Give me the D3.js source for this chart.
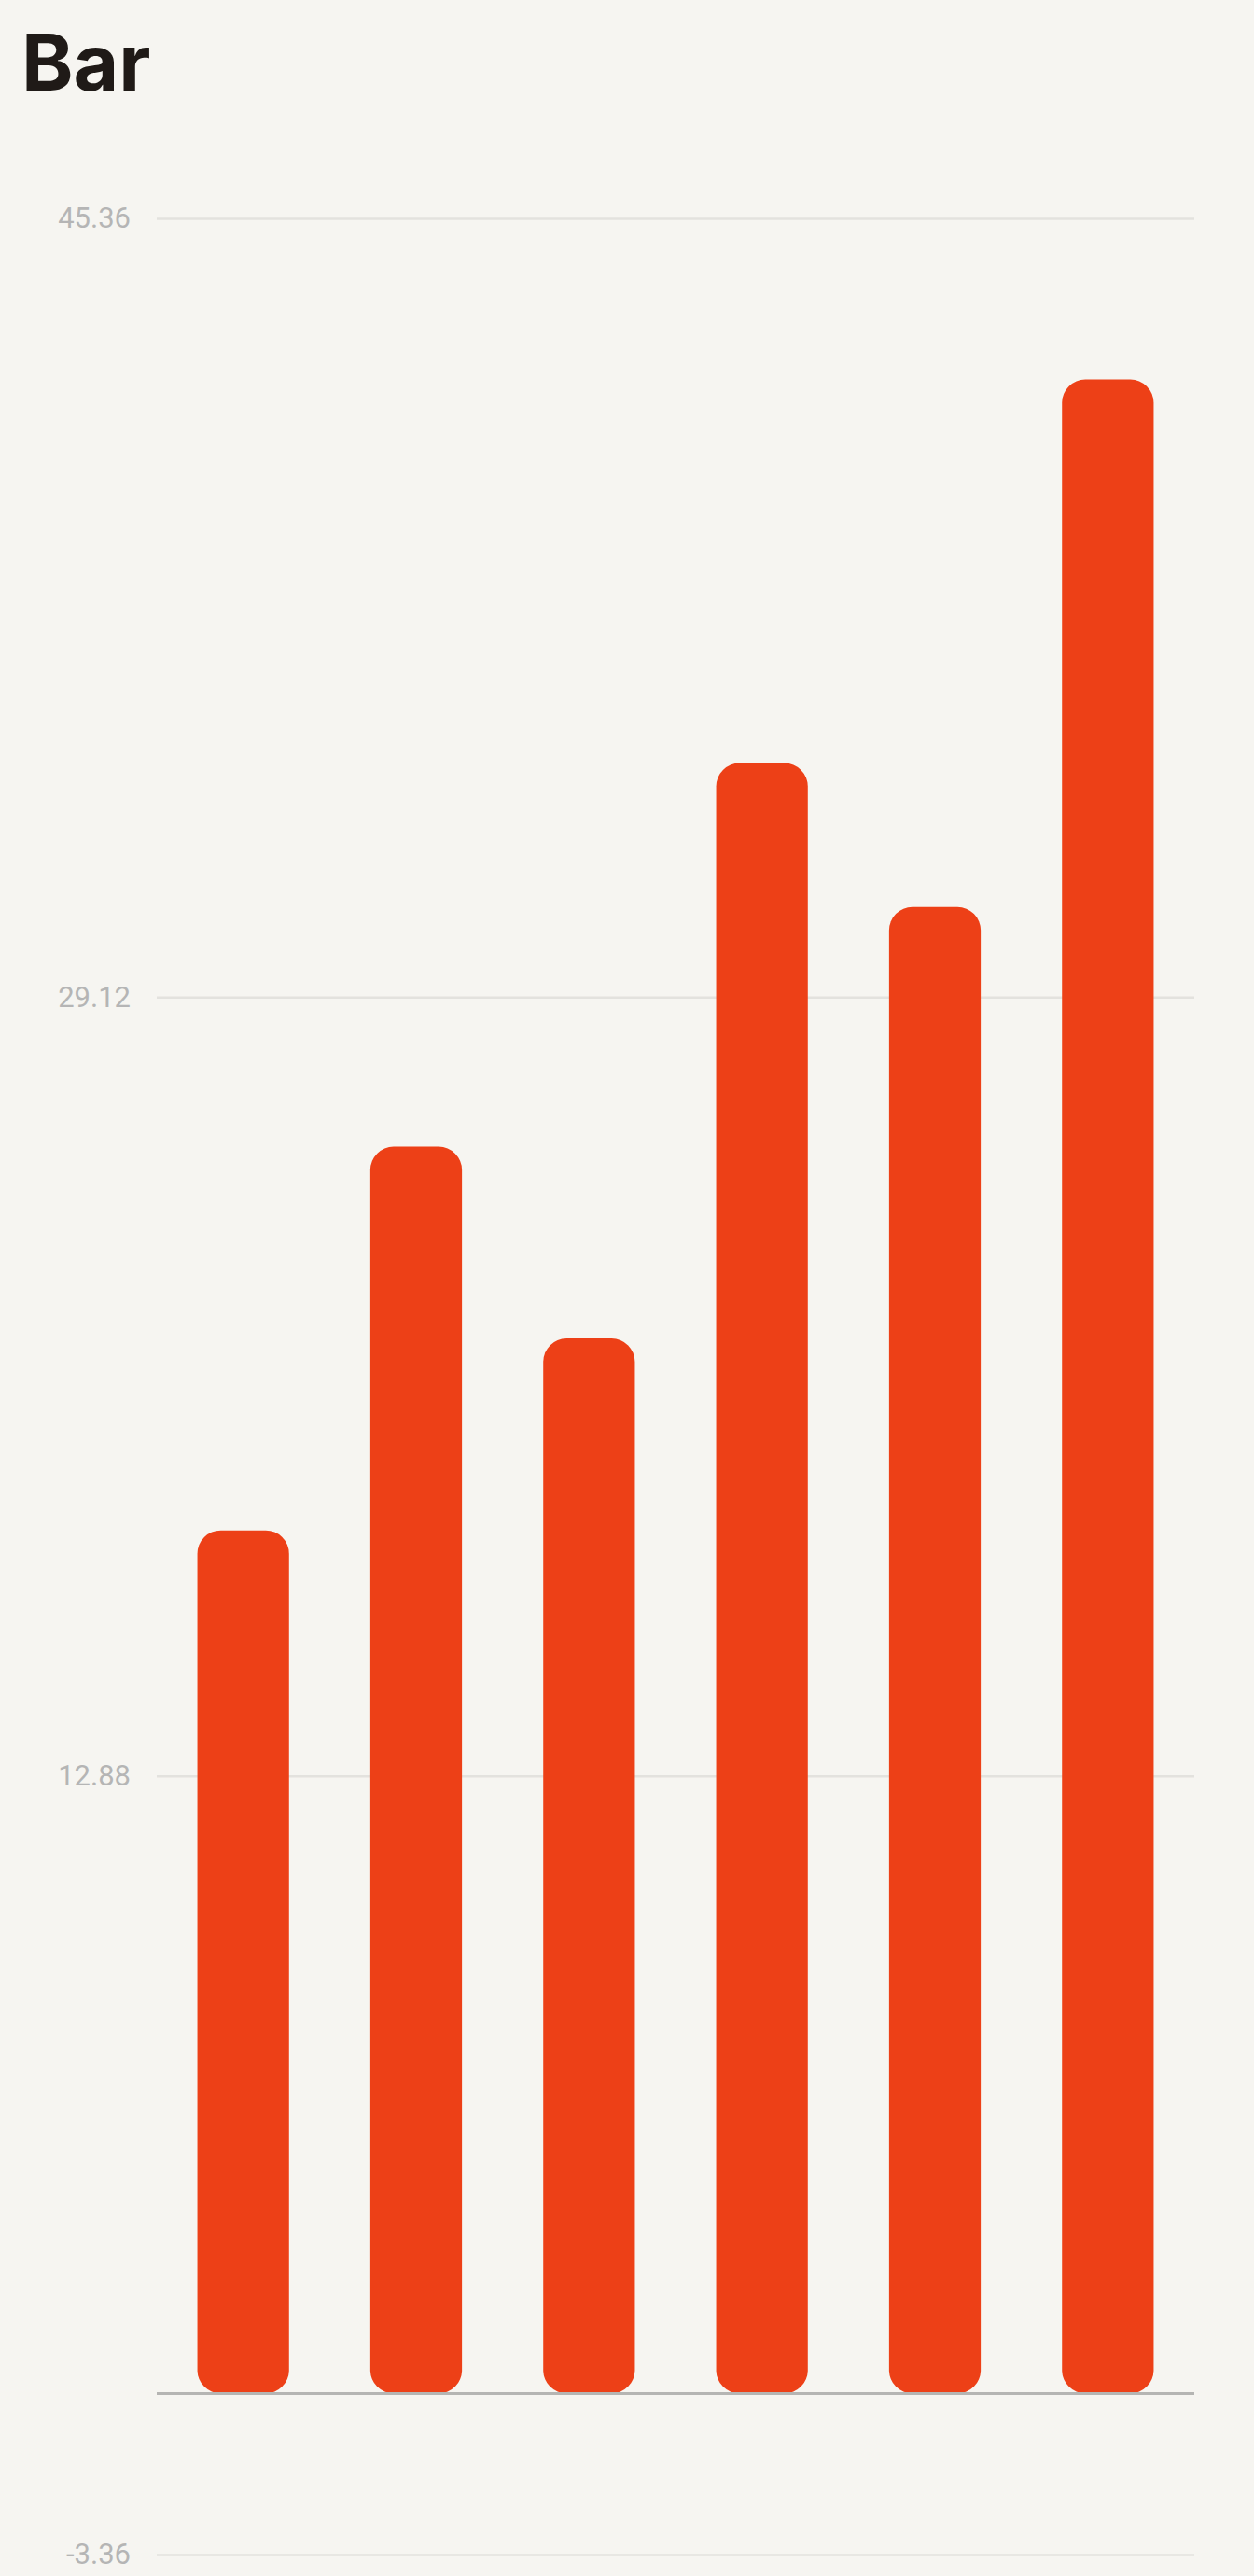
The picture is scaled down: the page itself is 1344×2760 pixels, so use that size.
<!DOCTYPE html>
<html>
<head>
<meta charset="utf-8">
<script src="https://cdn.jsdelivr.net/npm/d3@7"></script>
<style>
  html, body { margin: 0; padding: 0; background: #f6f5f1; }
  svg { display: block; }
</style>
</head>
<body>
<div id="chart"></div>
<script>
const categories = ['A', 'B', 'C', 'D', 'E', 'F'];
const values = [18, 26, 22, 34, 31, 42];
const yTicks = [-3.36, 12.88, 29.12, 45.36];

const width = 1344;
const height = 2760;
const marginLeft = 168;
const marginRight = 1280;
const plotTop = 234;
const plotBottom = 2737;

let svg = d3.select('#chart').append('svg')
  .attr('width', width)
  .attr('height', height);

svg.append('rect')
  .attr('width', width)
  .attr('height', height)
  .attr('fill', '#f6f5f1');

// Title
svg.append('text')
  .text('Bar')
  .attr('x', 23)
  .attr('y', 97)
  .attr('font-family', 'Inter')
  .attr('font-weight', 700)
  .attr('font-size', 84)
  .attr('fill', '#1f1a17');

let x = d3.scaleBand()
  .domain(categories)
  .range([marginLeft, marginRight])
  .paddingInner(0.47)
  .paddingOuter(0.235);

let y = d3.scaleLinear()
  .domain([yTicks[0], yTicks[yTicks.length - 1]])
  .range([plotBottom, plotTop]);

// Grid lines and labels
let yAxis = d3.axisLeft(y)
  .tickValues(yTicks)
  .tickSize(-(marginRight - marginLeft))
  .tickPadding(28)
  .tickFormat(d => d.toFixed(2));

let axisG = svg.append('g')
  .attr('transform', 'translate(' + marginLeft + ',0)')
  .call(yAxis);

axisG.select('.domain').remove();
axisG.selectAll('.tick line')
  .attr('stroke', '#e3e2de')
  .attr('stroke-width', 2.5);
axisG.selectAll('.tick text')
  .attr('font-family', 'Roboto')
  .attr('font-size', 31)
  .attr('fill', '#b5b5b5');

// Bars
svg.append('g').selectAll('rect')
  .data(values)
  .join('rect')
  .attr('x', (d, i) => x(categories[i]))
  .attr('y', d => y(d))
  .attr('width', x.bandwidth())
  .attr('height', d => y(0) - y(d))
  .attr('rx', 25)
  .attr('ry', 25)
  .attr('fill', '#ed4017');

// Zero line
svg.append('line')
  .attr('x1', marginLeft)
  .attr('x2', marginRight)
  .attr('y1', y(0))
  .attr('y2', y(0))
  .attr('stroke', '#b5b5b3')
  .attr('stroke-width', 3);
</script>
</body>
</html>
